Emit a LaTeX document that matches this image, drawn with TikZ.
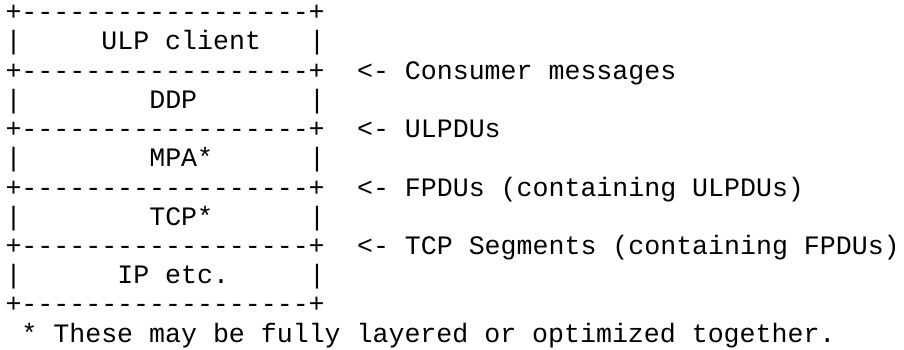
\documentclass[tikz,border=0pt]{standalone}
\usepackage{fontspec}
\setmonofont{Liberation Mono}
\tikzset{
  txt/.style={inner sep=0pt, outer sep=0pt, anchor=base west,
    font=\ttfamily\fontsize{26.6pt}{29pt}\selectfont, text=black},
}
\newcommand\cx[1]{5.5+15.98*#1}
\newcommand\ry[1]{328.2-29.2*#1}
\begin{document}
\begin{tikzpicture}[x=1pt,y=1pt]
\useasboundingbox[fill=white] (0,0) rectangle (904,349);
% box borders
\node[txt] (b0) at ({\cx{0}},{\ry{0}}) {+------------------+};
\node[txt] (l1) at ({\cx{0}},{\ry{1}}) {|};
\node[txt] (ulp) at ({\cx{6}},{\ry{1}}) {ULP client};
\node[txt] (r1) at ({\cx{19}},{\ry{1}}) {|};
\node[txt] (b2) at ({\cx{0}},{\ry{2}}) {+------------------+};
\node[txt] (c2) at ({\cx{22}},{\ry{2}}) {<- Consumer messages};
\node[txt] (l3) at ({\cx{0}},{\ry{3}}) {|};
\node[txt] (ddp) at ({\cx{9}},{\ry{3}}) {DDP};
\node[txt] (r3) at ({\cx{19}},{\ry{3}}) {|};
\node[txt] (b4) at ({\cx{0}},{\ry{4}}) {+------------------+};
\node[txt] (c4) at ({\cx{22}},{\ry{4}}) {<- ULPDUs};
\node[txt] (l5) at ({\cx{0}},{\ry{5}}) {|};
\node[txt] (mpa) at ({\cx{9}},{\ry{5}}) {MPA*};
\node[txt] (r5) at ({\cx{19}},{\ry{5}}) {|};
\node[txt] (b6) at ({\cx{0}},{\ry{6}}) {+------------------+};
\node[txt] (c6) at ({\cx{22}},{\ry{6}}) {<- FPDUs (containing ULPDUs)};
\node[txt] (l7) at ({\cx{0}},{\ry{7}}) {|};
\node[txt] (tcp) at ({\cx{9}},{\ry{7}}) {TCP*};
\node[txt] (r7) at ({\cx{19}},{\ry{7}}) {|};
\node[txt] (b8) at ({\cx{0}},{\ry{8}}) {+------------------+};
\node[txt] (c8) at ({\cx{22}},{\ry{8}}) {<- TCP Segments (containing FPDUs)};
\node[txt] (l9) at ({\cx{0}},{\ry{9}}) {|};
\node[txt] (ip) at ({\cx{7}},{\ry{9}}) {IP etc.};
\node[txt] (r9) at ({\cx{19}},{\ry{9}}) {|};
\node[txt] (b10) at ({\cx{0}},{\ry{10}}) {+------------------+};
\node[txt] (note) at ({\cx{1}},{\ry{11}}) {* These may be fully layered or optimized together.};
\end{tikzpicture}
\end{document}
